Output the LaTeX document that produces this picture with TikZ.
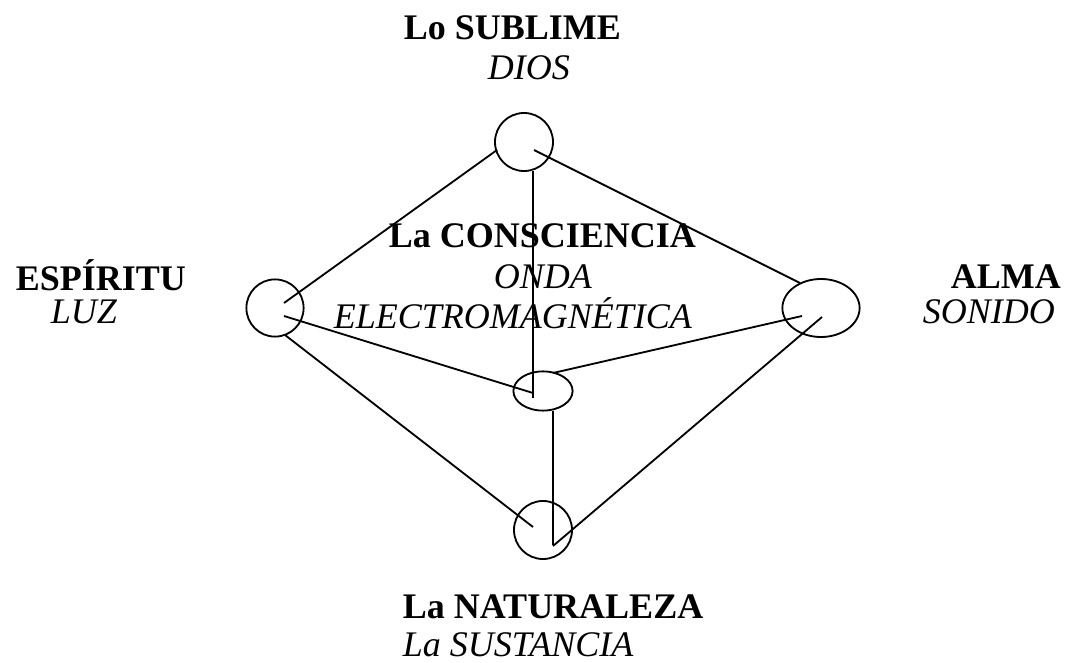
\documentclass[tikz,border=0pt]{standalone}
\usepackage{fontspec}
\setmainfont{Liberation Serif}
\usepackage{tikz}
\usetikzlibrary{positioning, calc}
\usetikzlibrary{shapes,arrows}

\begin{document}
\begin{tikzpicture}[x=0.025cm,y=-0.025cm,line width=1.3pt,draw=black!100]

	\def \fsize{\fontsize{25.6}{30}\selectfont}
	\tikzstyle{knot}=[draw,ellipse,inner sep=0pt,line width=1.3pt]
	\tikzstyle{btext}=[anchor=base west,inner sep=0pt,font=\fsize\bfseries]
	\tikzstyle{itext}=[anchor=base west,inner sep=0pt,font=\fsize\itshape]
	\useasboundingbox (0,0) rectangle (1066,663);

	% labels
	\node[btext] (sublime)	at (403,40)	{Lo SUBLIME};
	\node[itext] (dios)	at (487,80)	{DIOS};
	\node[btext] (consc)	at (388,247)	{La CONSCIENCIA};
	\node[itext] (onda)	at (493,288)	{ONDA};
	\node[itext] (electro)	at (333,328)	{ELECTROMAGNÉTICA};
	\node[btext] (espiritu)	at (15,290)	{ESPÍRITU};
	\node[itext] (luz)	at (50,323)	{LUZ};
	\node[btext] (alma)	at (950,288)	{ALMA};
	\node[itext] (sonido)	at (922,323)	{SONIDO};
	\node[btext] (natura)	at (402,618)	{La NATURALEZA};
	\node[itext] (sustan)	at (402,656)	{La SUSTANCIA};

	% circles
	\node[knot,minimum width=1.45cm,minimum height=1.45cm]	(top)	at (524,142)	{};
	\node[knot,minimum width=1.43cm,minimum height=1.43cm]	(left)	at (275,308)	{};
	\node[knot,minimum width=1.93cm,minimum height=1.45cm]	(right)	at (821,308)	{};
	\node[knot,minimum width=1.48cm,minimum height=0.98cm]	(mid)	at (543,391)	{};
	\node[knot,minimum width=1.45cm,minimum height=1.45cm]	(bot)	at (543,530)	{};

	% edges
	\draw ([shift={(-27,8)}]top.center) -- ([shift={(9,-5)}]left.center);
	\draw ([shift={(10,8)}]top.center) -- ([shift={(-21,-25)}]right.center);
	\draw ([shift={(9,29)}]top.center) -- ([shift={(-10,7)}]mid.center);
	\draw ([shift={(9,8)}]left.center) -- ([shift={(-10,2)}]mid.center);
	\draw ([shift={(10,-18)}]mid.center) -- ([shift={(-19,8)}]right.center);
	\draw ([shift={(10,27)}]left.center) -- ([shift={(-10,-3)}]bot.center);
	\draw ([shift={(10,20)}]mid.center) -- ([shift={(10,15)}]bot.center);
	\draw ([shift={(1,9)}]right.center) -- ([shift={(10,16)}]bot.center);
\end{tikzpicture}
\end{document}
